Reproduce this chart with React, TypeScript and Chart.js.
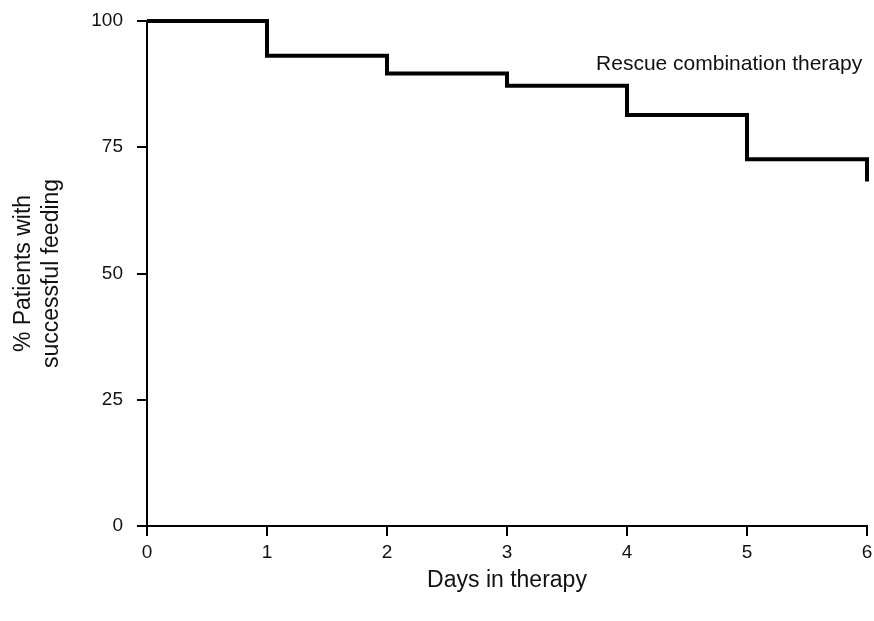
import React, { useEffect, useRef } from "react";
import { Chart, registerables } from "chart.js";

Chart.register(...registerables);

const days = [0, 1, 2, 3, 4, 5, 6];
const successPct = [100, 93.1, 89.6, 87.2, 81.4, 72.6, 68.2];
const seriesName = "Rescue combination therapy";
const xTitle = "Days in therapy";
const yTitle = ["% Patients with", "successful feeding"];
const yTicks = [0, 25, 50, 75, 100];
const xTicks = [0, 1, 2, 3, 4, 5, 6];
const LABEL_AT_X = 5.96;
const LABEL_AT_Y = 90.3;

const FONT = '"Liberation Sans", Arial, sans-serif';
const INK = "#111111";

const labelPlugin = {
  id: "seriesLabel",
  afterDatasetsDraw(chart: any) {
    const { ctx, scales } = chart;
    const px = scales.x.getPixelForValue(LABEL_AT_X);
    const py = scales.y.getPixelForValue(LABEL_AT_Y);
    ctx.save();
    ctx.font = `21px ${FONT}`;
    ctx.fillStyle = INK;
    ctx.textAlign = "right";
    ctx.textBaseline = "alphabetic";
    ctx.fillText(seriesName, px, py);
    ctx.restore();
  },
};

export default function App() {
  const ref = useRef<HTMLCanvasElement | null>(null);

  useEffect(() => {
    document.body.style.margin = "0";
    if (!ref.current) return;
    Chart.defaults.font.family = FONT;
    const chart = new Chart(ref.current, {
      type: "line",
      data: {
        datasets: [
          {
            label: seriesName,
            data: days.map((d, i) => ({ x: d, y: successPct[i] })),
            stepped: "before",
            borderColor: "#000000",
            borderWidth: 4,
            pointRadius: 0,
            fill: false,
            clip: false as any,
            borderJoinStyle: "miter",
            borderCapStyle: "butt",
          },
        ],
      },
      options: {
        responsive: false,
        animation: false,
        devicePixelRatio: 1,
        layout: { padding: { top: 21, right: 7, left: 0, bottom: 0 } },
        plugins: {
          legend: { display: false },
          tooltip: { enabled: false },
        },
        scales: {
          x: {
            type: "linear",
            min: 0,
            max: 6,
            afterBuildTicks: (s: any) => {
              s.ticks = xTicks.map((v) => ({ value: v }));
            },
            afterFit: (s: any) => {
              s.height = 95;
              s.paddingLeft = 0;
              s.paddingRight = 0;
            },
            ticks: {
              stepSize: 1,
              color: INK,
              font: { size: 19 },
              padding: 5,
              maxRotation: 0,
            },
            grid: {
              drawOnChartArea: false,
              drawTicks: true,
              tickLength: 10,
              color: "#000000",
              lineWidth: 2,
            },
            border: { display: true, color: "#000000", width: 2 },
            title: {
              display: true,
              text: xTitle,
              color: INK,
              font: { size: 23, lineHeight: 1.2 },
              padding: { top: 0, bottom: 27 },
            },
          },
          y: {
            type: "linear",
            min: 0,
            max: 100,
            afterBuildTicks: (s: any) => {
              s.ticks = yTicks.map((v) => ({ value: v }));
            },
            afterFit: (s: any) => {
              s.width = 147;
              s.paddingTop = 0;
              s.paddingBottom = 0;
            },
            ticks: {
              stepSize: 25,
              color: INK,
              font: { size: 19 },
              padding: 14,
            },
            grid: {
              drawOnChartArea: false,
              drawTicks: true,
              tickLength: 10,
              color: "#000000",
              lineWidth: 2,
            },
            border: { display: true, color: "#000000", width: 2 },
            title: {
              display: true,
              text: yTitle,
              color: INK,
              font: { size: 23, lineHeight: 1.2 },
              padding: { top: 10, bottom: 0 },
            },
          },
        },
      },
      plugins: [labelPlugin],
    });
    return () => chart.destroy();
  }, []);

  return (
    <div style={{ width: 874, height: 621, background: "#ffffff" }}>
      <canvas ref={ref} width={874} height={621} />
    </div>
  );
}
